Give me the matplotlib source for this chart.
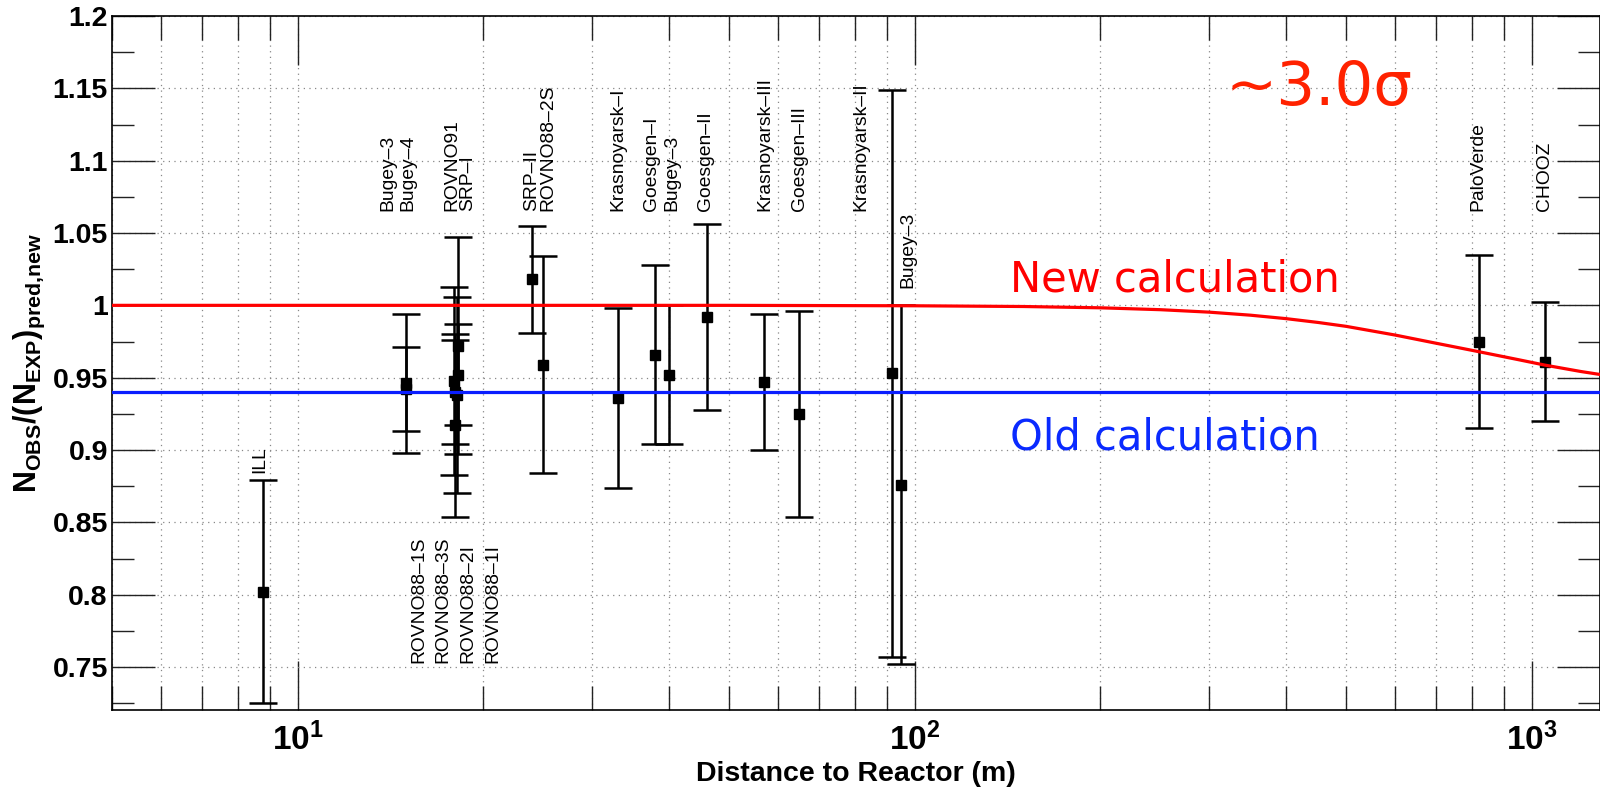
import matplotlib
matplotlib.use("Agg")
import matplotlib.pyplot as plt
from matplotlib.ticker import MultipleLocator, FixedLocator, LogLocator, NullFormatter

plt.rcParams["font.family"] = ["Liberation Sans", "DejaVu Sans"]
plt.rcParams["mathtext.fontset"] = "custom"
plt.rcParams["mathtext.rm"] = "Liberation Sans:bold"
plt.rcParams["mathtext.it"] = "Liberation Sans:bold"
plt.rcParams["mathtext.bf"] = "Liberation Sans:bold"

# Reactor experiments: baseline (m), observed/predicted ratio, total error
experiments = ["ILL", "Bugey-4", "Bugey-3", "ROVNO91", "SRP-I", "ROVNO88-1I",
               "ROVNO88-2I", "ROVNO88-1S", "ROVNO88-3S", "SRP-II", "ROVNO88-2S",
               "Krasnoyarsk-I", "Goesgen-I", "Bugey-3", "Goesgen-II",
               "Krasnoyarsk-III", "Goesgen-III", "Krasnoyarsk-II", "Bugey-3",
               "PaloVerde", "CHOOZ"]
distance = [8.77, 15.0, 15.0, 18.0, 18.2, 18.0, 17.9, 18.2, 18.1, 24.0, 25.0,
            33.0, 38.0, 40.0, 46.0, 57.0, 65.0, 92.0, 95.0, 820.0, 1050.0]
ratio = [0.802, 0.942, 0.946, 0.940, 0.952, 0.917, 0.948, 0.972, 0.938, 1.018,
         0.959, 0.936, 0.966, 0.952, 0.992, 0.947, 0.925, 0.953, 0.876, 0.975,
         0.961]
ratio_err = [0.077, 0.029, 0.048, 0.036, 0.035, 0.063, 0.065, 0.075, 0.068,
             0.037, 0.075, 0.062, 0.062, 0.048, 0.064, 0.047, 0.071, 0.196,
             0.124, 0.060, 0.041]

# Expected ratio with the new flux calculation (includes oscillation at long baselines)
new_calc_L = [5, 50, 100, 150, 200, 250, 300, 350, 400, 450, 500, 600, 700,
              820, 950, 1050, 1200, 1300]
new_calc_ratio = [1.0, 1.0, 0.9997, 0.9992, 0.9983, 0.997, 0.9953, 0.9932,
                  0.9908, 0.9882, 0.9855, 0.9795, 0.9738, 0.968, 0.9625,
                  0.9587, 0.9543, 0.952]
old_calc_ratio = 0.940

# Experiment labels: text, x anchor (m), start of text (ratio)
label_text = ["Bugey\u20133", "Bugey\u20134", "ROVNO91", "SRP\u2013I", "SRP\u2013II",
              "ROVNO88\u20132S", "Krasnoyarsk\u2013I", "Goesgen\u2013I", "Bugey\u20133",
              "Goesgen\u2013II", "Krasnoyarsk\u2013III", "Goesgen\u2013III",
              "Krasnoyarsk\u2013II", "Bugey\u20133", "PaloVerde", "CHOOZ", "ILL",
              "ROVNO88\u20131S", "ROVNO88\u20133S", "ROVNO88\u20132I", "ROVNO88\u20131I"]
label_x = [14.0, 15.08, 17.77, 18.86, 23.95, 25.42, 33.0, 37.5, 40.4, 45.85,
           57.1, 65.1, 81.7, 97.4, 817, 1050, 8.68, 15.71, 17.18, 18.86, 20.7]
label_y = [1.0652] * 13 + [1.012, 1.0652, 1.0652, 0.884] + [0.7528] * 4

fig = plt.figure(figsize=(16, 7.89), dpi=100)
ax = fig.add_axes([112 / 1600, 79 / 789, 1488 / 1600, 694 / 789])
ax.set_xscale("log")
ax.set_xlim(5.0, 1290)
ax.set_ylim(0.7203, 1.2)

# grid
ax.set_axisbelow(True)
grid_kw = dict(color="#888888", linestyle=(0, (1, 3.5)), linewidth=0.9)
ax.grid(True, which="major", axis="y", **grid_kw)
ax.grid(True, which="both", axis="x", **grid_kw)

# reference lines
ax.plot(new_calc_L, new_calc_ratio, color="#ff0000", lw=2.3, zorder=4)
ax.axhline(old_calc_ratio, color="#0a1eff", lw=2.3, zorder=4)

# data
ax.errorbar(distance, ratio, yerr=ratio_err, fmt="s", color="black", ms=7,
            elinewidth=1.8, capsize=10.4, capthick=1.8, zorder=3)

for t, lx, ly in zip(label_text, label_x, label_y):
    ax.text(lx, ly, t, rotation=90, ha="center", va="bottom", fontsize=13.9,
            family=["Liberation Sans", "DejaVu Sans"], zorder=5)

fig.text(1010 / 1600, 1 - 292 / 789, "New calculation", color="#ff0000",
         fontsize=30, family="DejaVu Sans", ha="left", va="baseline")
fig.text(1010 / 1600, 1 - 449 / 789, "Old calculation", color="#0a2aff",
         fontsize=30, family="DejaVu Sans", ha="left", va="baseline")
fig.text(1225 / 1600, 1 - 105 / 789, "~3.0\u03c3", color="#ff2200",
         fontsize=44, family="DejaVu Sans", ha="left", va="baseline")

# ticks
yt = [0.75, 0.8, 0.85, 0.9, 0.95, 1.0, 1.05, 1.1, 1.15, 1.2]
ax.set_yticks(yt)
ax.set_yticklabels(["0.75", "0.8", "0.85", "0.9", "0.95", "1", "1.05", "1.1",
                    "1.15", "1.2"], fontweight="bold", fontsize=20.5)
ax.yaxis.set_minor_locator(MultipleLocator(0.025))
ax.xaxis.set_major_locator(FixedLocator([10, 100, 1000]))
ax.set_xticklabels([r"$\mathbf{10^{1}}$", r"$\mathbf{10^{2}}$", r"$\mathbf{10^{3}}$"],
                   fontsize=24)
ax.xaxis.set_minor_locator(LogLocator(base=10, subs=range(2, 10)))
ax.xaxis.set_minor_formatter(NullFormatter())

ax.tick_params(axis="y", which="major", direction="in", length=31, width=1.0,
               left=True, right=True, pad=3, color="#222222")
ax.tick_params(axis="y", which="minor", direction="in", length=16, width=1.0,
               left=True, right=True, color="#222222")
ax.tick_params(axis="x", which="major", direction="in", length=35, width=1.0,
               top=True, bottom=True, pad=9, color="#222222")
ax.tick_params(axis="x", which="minor", direction="in", length=17, width=1.0,
               top=True, bottom=True, color="#222222")
for s in ax.spines.values():
    s.set_linewidth(1.2)

fig.text(856 / 1600, 1 - 774 / 789, "Distance to Reactor (m)", fontsize=20.5,
         fontweight="bold", ha="center", va="center")
ax.set_ylabel(r"$\mathbf{N_{OBS}/(N_{EXP})_{pred{,}new}}$", fontsize=22, labelpad=4)

fig.savefig("out.png", dpi=100)
